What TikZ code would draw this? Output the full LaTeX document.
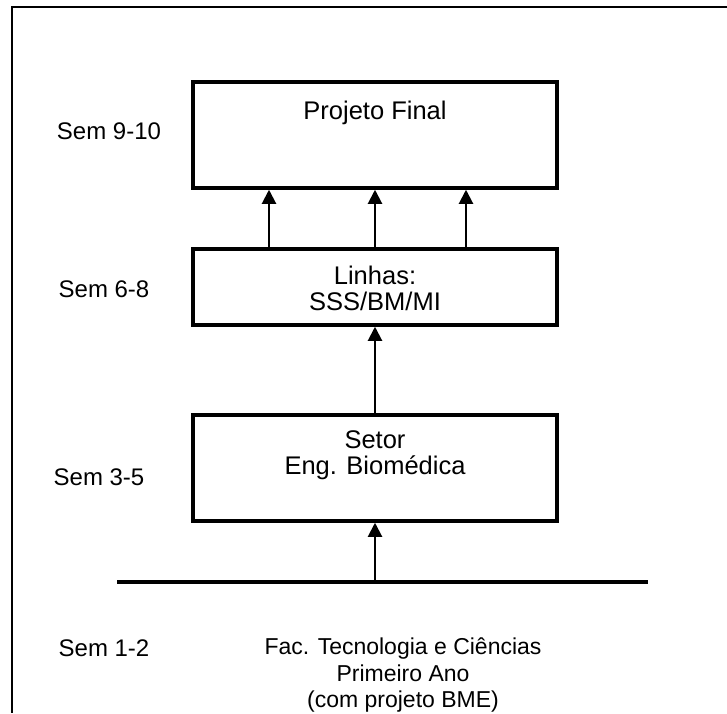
\documentclass[tikz,border=0pt]{standalone}
\usepackage{fontspec}
\setmainfont{Liberation Sans}
\usetikzlibrary{arrows.meta, positioning}
\tikzset{
    % Semester blocks - plain thick rectangles
    stage box/.style={rectangle, draw=black, line width=3.5pt, minimum width=364pt, inner sep=0pt},
    % Text inside the blocks
    stage text/.style={font=\fontsize{25.5pt}{26pt}\selectfont, align=center, inner sep=0pt},
    % Text below the base line
    year text/.style={font=\fontsize{23pt}{26.5pt}\selectfont, align=center, inner sep=0pt},
    % Semester labels on the left
    sem label/.style={font=\fontsize{24pt}{26pt}\selectfont, inner sep=0pt},
    % Connectors between blocks
    up arrow/.style={line width=2pt, -{Triangle[length=14pt, width=14pt]}},
    % Base line of the first year
    base line/.style={line width=4pt}
}
\begin{document}
\begin{tikzpicture}[x=1pt, y=-1pt]
    \useasboundingbox (0,0) rectangle (727,713);

    % --- Frame (open at right and bottom) ---
    \coordinate (frameTL) at (12,7);
    \draw[line width=2.2pt] (727,7) -- (frameTL) -- (12,713);

    % --- Blocks ---
    \node[stage box, minimum height=106pt] (final) at (375,135) {};
    \node[stage box, minimum height=76pt] (linhas) at (375,287) {};
    \node[stage box, minimum height=106pt] (setor) at (375,468) {};

    % --- Block texts ---
    \node[stage text] (finalText) at (375,113) {Projeto Final};
    \node[stage text] (linhasText) at (375,288) {Linhas:\\SSS/BM/MI};
    \node[stage text] (setorText) at (375,455) {Setor\\Eng. Biomédica};

    % --- Base line and first year ---
    \coordinate (baseL) at (117,582);
    \coordinate (baseR) at (648,582);
    \draw[base line] (baseL) -- (baseR);
    \node[year text] (facText) at (403,675) {Fac. Tecnologia e Ciências\\Primeiro Ano\\(com projeto BME)};

    % --- Semester labels ---
    \node[sem label] (sem910) at (109,131) {Sem 9-10};
    \node[sem label] (sem68) at (104,289) {Sem 6-8};
    \node[sem label] (sem35) at (99,477) {Sem 3-5};
    \node[sem label] (sem12) at (104,648) {Sem 1-2};

    % --- Arrows ---
    \draw[up arrow] (setor.south |- baseL) -- (setor.south);
    \draw[up arrow] (setor.north) -- (linhas.south);
    \draw[up arrow] ([xshift=-106pt]linhas.north) -- ([xshift=-106pt]final.south);
    \draw[up arrow] (linhas.north) -- (final.south);
    \draw[up arrow] ([xshift=91pt]linhas.north) -- ([xshift=91pt]final.south);
\end{tikzpicture}
\end{document}
